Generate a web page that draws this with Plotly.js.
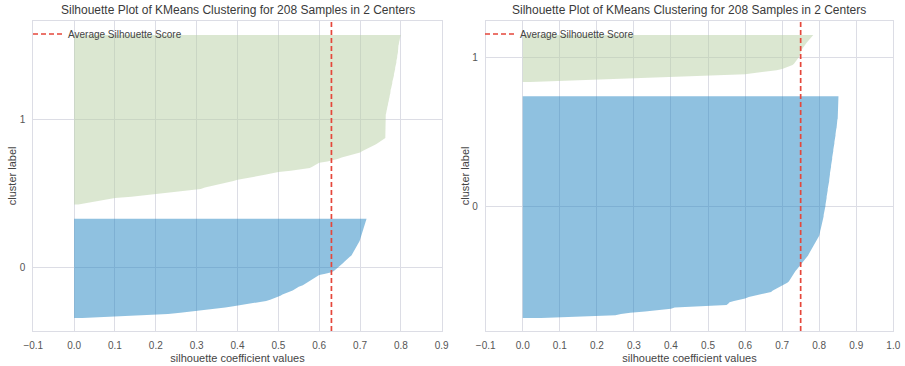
<!DOCTYPE html>
<html><head><meta charset="utf-8">
<script src="https://cdn.plot.ly/plotly-3.0.1.min.js"></script>
<style>html,body{margin:0;padding:0;background:#fff}</style>
</head><body><div id="chart" style="width:905px;height:366px"></div>
<script>
const titleText = "Silhouette Plot of KMeans Clustering for 208 Samples in 2 Centers";
const xTitle = "silhouette coefficient values";
const yTitle = "cluster label";
const legendName = "Average Silhouette Score";
const clusterLabels = ["0", "1"];

// Left chart: sorted silhouette values per cluster
const leftCluster0 = [0.02,0.10,0.19,0.23,0.26,0.29,0.31,0.34,0.37,0.39,0.41,0.43,0.455,0.47,0.48,0.49,0.50,0.505,0.51,0.52,
0.53,0.535,0.54,0.545,0.55,0.56,0.565,0.57,0.578,0.583,0.588,0.592,0.597,0.60,0.615,0.63,0.636,0.64,0.644,0.648,
0.652,0.655,0.658,0.661,0.664,0.668,0.671,0.675,0.679,0.681,0.683,0.685,0.687,0.689,0.691,0.693,0.695,0.696,0.698,0.699,
0.700,0.701,0.702,0.703,0.704,0.705,0.706,0.707,0.708,0.709,0.710,0.711,0.712,0.713,0.714,0.715,0.716];
const leftCluster1 = [0.01,0.03,0.05,0.07,0.085,0.10,0.14,0.17,0.20,0.23,0.26,0.29,0.31,0.32,0.335,0.35,0.36,0.375,0.39,0.40,
0.42,0.44,0.455,0.47,0.485,0.50,0.53,0.56,0.577,0.583,0.589,0.594,0.60,0.62,0.635,0.645,0.655,0.668,0.68,0.69,
0.70,0.706,0.713,0.72,0.727,0.733,0.738,0.743,0.748,0.753,0.758,
0.762,0.762,0.762,0.762,0.762,0.762,0.762,0.762,0.762,0.762,0.762,0.762,0.762,0.762,0.762,0.762,0.762,0.762,
0.763,0.764,0.764,0.765,0.766,0.766,0.767,0.768,0.768,0.769,0.770,0.770,0.771,0.772,0.772,0.773,0.774,0.774,0.775,0.775,
0.776,0.777,0.777,0.778,0.779,0.779,0.780,0.781,0.781,0.782,0.783,0.783,0.784,0.785,0.785,0.786,0.786,0.787,
0.788,0.788,0.789,0.789,0.790,0.790,0.791,0.791,0.792,0.792,0.793,0.793,0.793,0.794,0.794,0.794,0.795,0.795,
0.796,0.797,0.797,0.798,0.799,0.800];
const leftAverage = 0.63;

// Right chart
const rightCluster0 = [0.05,0.17,0.25,0.265,0.29,0.33,0.37,0.40,0.41,0.48,0.55,0.555,0.558,0.57,0.59,0.60,0.61,0.625,0.64,0.66,
0.67,0.675,0.682,0.688,0.695,0.70,0.707,0.714,0.718,0.72,0.722,0.724,0.726,0.728,0.730,0.733,0.736,0.739,0.742,0.745,
0.748,0.751,0.754,0.757,0.760,0.763,0.766,0.768,0.770,0.772,0.774,0.776,0.778,0.780,0.782,0.785,0.788,0.790,0.792,0.794,
0.796,0.798,
0.799,0.800,0.801,0.801,0.802,0.803,0.804,0.805,0.805,0.806,0.807,0.808,0.809,0.810,
0.811,0.811,0.812,0.812,0.813,0.814,0.814,0.815,0.815,0.816,
0.817,0.817,0.818,0.818,0.819,0.819,0.820,0.820,0.821,0.821,0.822,0.822,0.823,0.823,0.824,0.825,
0.825,0.826,0.826,0.827,0.827,0.828,0.828,0.829,0.829,0.829,0.830,0.830,0.831,0.831,0.832,0.832,0.833,0.833,0.834,0.834,
0.835,0.835,0.836,0.836,0.837,0.837,0.838,0.838,0.839,0.839,0.840,0.840,0.841,0.841,0.842,0.842,0.843,0.843,
0.844,0.844,0.845,0.845,0.846,0.846,0.847,0.847,0.848,0.848,0.849,0.849,0.849,
0.850,0.850,0.850,0.850,0.850,0.851,0.851,0.851,0.851,0.851,0.851,0.852,0.852,0.852,0.852,0.852,0.852,0.852];
const rightCluster1 = [0.02,0.12,0.23,0.33,0.43,0.52,0.60,0.63,0.66,0.685,0.70,0.71,0.72,0.728,0.732,0.735,0.738,0.741,0.743,0.745,
0.747,0.748,0.749,0.751,0.752,0.753,0.756,0.758,0.761,0.763,0.766,0.769,0.772,0.775,0.778,0.780,0.784];
const rightAverage = 0.75;

const leftXRange = [-0.1, 0.9];
const rightXRange = [-0.1, 1.0];
const gapSize = 10;

const clusterColors = ["rgba(31,131,193,0.5)", "rgba(183,207,163,0.5)"];
const avgColor = "#e5473b";
const gridColor = "#dcdde5";

function layoutClusters(clusters) {
  let yLower = gapSize;
  const ys = [], ticks = [];
  clusters.forEach(vals => {
    const arr = vals.map((v, i) => yLower + i);
    ys.push(arr);
    ticks.push(yLower + 0.5 * vals.length);
    yLower += vals.length + gapSize;
  });
  const total = clusters.reduce((s, c) => s + c.length, 0);
  return {ys, ticks, ymax: total + (clusters.length + 1) * gapSize};
}

const data = [];
const layoutInfo = [];
[[ [leftCluster0, leftCluster1], leftAverage, "x", "y", "legend"],
 [ [rightCluster0, rightCluster1], rightAverage, "x2", "y2", "legend2"]].forEach(([clusters, avg, xa, ya, lg]) => {
  const info = layoutClusters(clusters);
  layoutInfo.push(info);
  clusters.forEach((vals, k) => {
    data.push({
      type: "scatter", mode: "lines", x: vals, y: info.ys[k], fill: "tozerox",
      fillcolor: clusterColors[k], line: {width: 0, color: clusterColors[k]},
      showlegend: false, hoverinfo: "skip", xaxis: xa, yaxis: ya
    });
  });
  data.push({
    type: "scatter", mode: "lines", x: [avg, avg], y: [0, info.ymax],
    line: {color: avgColor, width: 1.7, dash: "5px,3px"}, name: legendName,
    xaxis: xa, yaxis: ya, legend: lg, showlegend: true
  });
});

const fontFam = "Liberation Sans, Arial, sans-serif";
function xAxis(range, domain, anchor) {
  return {
    domain, range, anchor, dtick: 0.1, tick0: 0, tickformat: ".1f",
    showgrid: true, gridcolor: gridColor, gridwidth: 1, zeroline: false,
    showline: true, linecolor: gridColor, linewidth: 1, mirror: true,
    ticks: "", ticklabelstandoff: 5,
    tickfont: {family: fontFam, size: 10, color: "#555"},
    title: {text: xTitle, font: {family: fontFam, size: 11, color: "#444"}, standoff: 4}
  };
}
function yAxis(info, domain, anchor) {
  return {
    domain, range: [0, info.ymax], anchor, tickmode: "array",
    tickvals: info.ticks, ticktext: clusterLabels,
    showgrid: true, gridcolor: gridColor, gridwidth: 1, zeroline: false,
    showline: true, linecolor: gridColor, linewidth: 1, mirror: true,
    ticks: "", ticklabelstandoff: 5,
    tickfont: {family: fontFam, size: 10, color: "#555"},
    title: {text: yTitle, font: {family: fontFam, size: 11, color: "#444"}, standoff: 0}
  };
}

const W = 905, H = 366;
const yDom = [35 / H, 345.3 / H];
const xDom1 = [33.3 / W, 441.7 / W];
const xDom2 = [485.7 / W, 893.3 / W];

const legendBase = {
  bgcolor: "rgba(0,0,0,0)", borderwidth: 0, xanchor: "left", yanchor: "middle",
  y: (H - 34) / H, font: {family: fontFam, size: 10, color: "#444"}, itemwidth: 30
};

const layout = {
  width: W, height: H, margin: {l: 0, r: 0, t: 0, b: 0},
  paper_bgcolor: "#fff", plot_bgcolor: "#fff", showlegend: true,
  xaxis: xAxis(leftXRange, xDom1, "y"),
  yaxis: yAxis(layoutInfo[0], yDom, "x"),
  xaxis2: xAxis(rightXRange, xDom2, "y2"),
  yaxis2: yAxis(layoutInfo[1], yDom, "x2"),
  legend: Object.assign({}, legendBase, {x: 28 / W}),
  legend2: Object.assign({}, legendBase, {x: 480 / W}),
  annotations: [
    {text: titleText, xref: "paper", yref: "paper", x: (xDom1[0] + xDom1[1]) / 2, y: (H - 10) / H,
     xanchor: "center", yanchor: "middle", showarrow: false, font: {family: fontFam, size: 12, color: "#3a3a3a"}},
    {text: titleText, xref: "paper", yref: "paper", x: (xDom2[0] + xDom2[1]) / 2, y: (H - 10) / H,
     xanchor: "center", yanchor: "middle", showarrow: false, font: {family: fontFam, size: 12, color: "#3a3a3a"}}
  ]
};

Plotly.newPlot("chart", data, layout, {displayModeBar: false, staticPlot: true});
</script></body></html>
